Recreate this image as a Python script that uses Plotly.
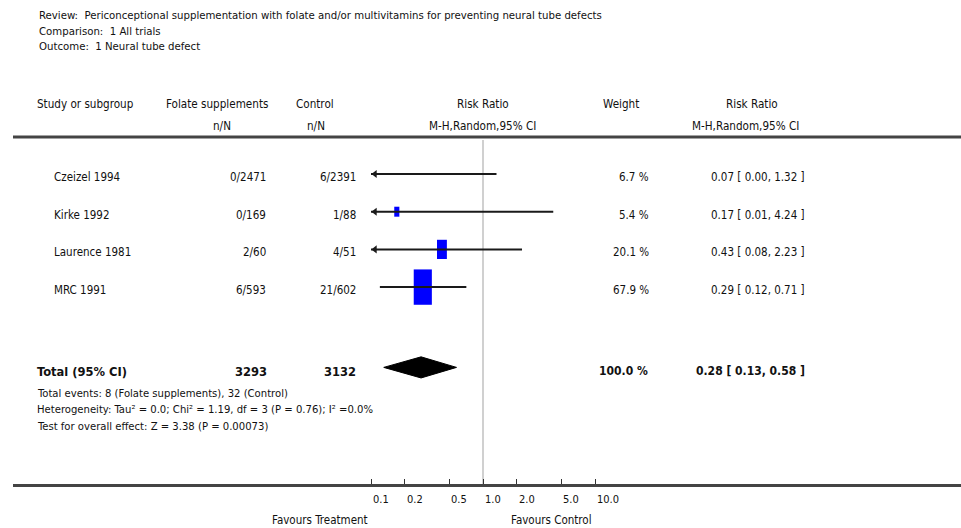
import numpy as np
import plotly.graph_objects as go

# ---------------- data ----------------
studies = ["Czeizel 1994", "Kirke 1992", "Laurence 1981", "MRC 1991"]
treat_txt = ["0/2471", "0/169", "2/60", "6/593"]
ctrl_txt = ["6/2391", "1/88", "4/51", "21/602"]
rr = [0.07, 0.17, 0.43, 0.29]
ci_lo = [0.00, 0.01, 0.08, 0.12]
ci_hi = [1.32, 4.24, 2.23, 0.71]
weights = [6.7, 5.4, 20.1, 67.9]
weight_txt = ["6.7 %", "5.4 %", "20.1 %", "67.9 %"]
rr_txt = ["0.07 [ 0.00, 1.32 ]", "0.17 [ 0.01, 4.24 ]", "0.43 [ 0.08, 2.23 ]", "0.29 [ 0.12, 0.71 ]"]
total_rr, total_lo, total_hi = 0.28, 0.13, 0.58
total_treat, total_ctrl = "3293", "3132"
total_weight_txt, total_rr_txt = "100.0 %", "0.28 [ 0.13, 0.58 ]"
tick_vals = [0.1, 0.2, 0.5, 1.0, 2.0, 5.0, 10.0]
tick_text = ["0.1", "0.2", "0.5", "1.0", "2.0", "5.0", "10.0"]
axis_min, axis_max = 0.1, 10.0

title_lines = [
    "Review:  Periconceptional supplementation with folate and/or multivitamins for preventing neural tube defects",
    "Comparison:  1 All trials",
    "Outcome:  1 Neural tube defect",
]
foot_lines = [
    "Total events: 8 (Folate supplements), 32 (Control)",
    "Heterogeneity: Tau² = 0.0; Chi² = 1.19, df = 3 (P = 0.76); I² =0.0%",
    "Test for overall effect: Z = 3.38 (P = 0.00073)",
]

# ---------------- layout helpers ----------------
W, H = 961, 528
FONT = "DejaVu Sans Condensed, Liberation Sans Narrow, sans-serif"
TXT = "#111111"


def px(x):
    return x / W


def py(y):
    return 1 - y / H


row_y = list(range(len(studies)))
total_y = 5.13

fig = go.Figure()
ann = []
shapes = []

# squares (size ~ sqrt(weight))
for i, (e, w) in enumerate(zip(rr, weights)):
    if e < axis_min:
        continue
    wpx = 2.2 * np.sqrt(w)
    hpx = 1.95 * wpx
    shapes.append(dict(type="rect", xref="x", yref="y", xsizemode="pixel", ysizemode="pixel",
                       xanchor=np.log10(e), yanchor=row_y[i],
                       x0=-wpx / 2, x1=wpx / 2, y0=-hpx / 2, y1=hpx / 2,
                       fillcolor="#0000ff", line=dict(width=0), layer="below"))

# CI lines + arrows
for i in range(len(studies)):
    lo = max(ci_lo[i], axis_min)
    hi = min(ci_hi[i], axis_max)
    fig.add_trace(go.Scatter(x=np.log10([lo, hi]), y=[row_y[i], row_y[i]], mode="lines",
                             line=dict(color="#1a1a1a", width=2), hoverinfo="skip", showlegend=False))
    if ci_lo[i] < axis_min:
        fig.add_trace(go.Scatter(x=[np.log10(axis_min) + 0.035], y=[row_y[i]], mode="markers",
                                 marker=dict(symbol="triangle-left", size=7, color="#1a1a1a"),
                                 hoverinfo="skip", showlegend=False))

# diamond
dh = 0.28
fig.add_trace(go.Scatter(
    x=np.log10([total_lo, total_rr, total_hi, total_rr, total_lo]),
    y=[total_y, total_y - dh, total_y, total_y + dh, total_y],
    mode="lines", fill="toself", fillcolor="#000000", line=dict(color="#000000", width=1),
    hoverinfo="skip", showlegend=False))

# vertical line of no effect
shapes.append(dict(type="line", xref="x", yref="paper", x0=0, x1=0, y0=py(140), y1=py(484),
                   line=dict(color="#d0d0d0", width=2), layer="below"))
# header rule
shapes.append(dict(type="line", xref="paper", yref="paper", x0=px(13), x1=1, y0=py(137), y1=py(137),
                   line=dict(color="#444444", width=3)))


def text(x, y, s, anchor="left", size=11.5, bold=False, xref="paper", yref="paper", yshift=0):
    ann.append(dict(x=x, y=y, xref=xref, yref=yref, text=("<b>%s</b>" % s) if bold else s,
                    showarrow=False, xanchor=anchor, yanchor="middle", yshift=yshift,
                    font=dict(family=FONT, size=size, color=TXT)))


# title block
for k, t in enumerate(title_lines):
    text(px(37), py(15 + 16 * k), t, size=11.3)

# column headers
HS = 11.6
text(px(35), py(104), "Study or subgroup", size=HS)
text(px(217), py(104), "Folate supplements", anchor="center", size=HS)
text(px(222), py(126), "n/N", anchor="center", size=HS)
text(px(315), py(104), "Control", anchor="center", size=HS)
text(px(316), py(126), "n/N", anchor="center", size=HS)
text(px(483), py(104), "Risk Ratio", anchor="center", size=HS)
text(px(483), py(126), "M-H,Random,95% CI", anchor="center", size=HS)
text(px(621), py(104), "Weight", anchor="center", size=HS)
text(px(752), py(104), "Risk Ratio", anchor="center", size=HS)
text(px(745), py(126), "M-H,Random,95% CI", anchor="center", size=HS)

# study rows
RS = 11.5
for i in range(len(studies)):
    y = row_y[i]
    text(px(52), y, studies[i], yref="y", yshift=-3, size=RS)
    text(px(268), y, treat_txt[i], anchor="right", yref="y", yshift=-3, size=RS)
    text(px(358), y, ctrl_txt[i], anchor="right", yref="y", yshift=-3, size=RS)
    text(px(651), y, weight_txt[i], anchor="right", yref="y", yshift=-3, size=RS)
    text(px(807), y, rr_txt[i], anchor="right", yref="y", yshift=-3, size=RS)

# total row
TS = 12.8
text(px(35), total_y, "Total (95% CI)", size=TS, bold=True, yref="y", yshift=-4)
text(px(269), total_y, total_treat, anchor="right", size=TS, bold=True, yref="y", yshift=-4)
text(px(358), total_y, total_ctrl, anchor="right", size=TS, bold=True, yref="y", yshift=-4)
text(px(650), total_y, total_weight_txt, anchor="right", size=12, bold=True, yref="y", yshift=-4)
text(px(807), total_y, total_rr_txt, anchor="right", size=12, bold=True, yref="y", yshift=-4)

for k, t in enumerate(foot_lines):
    text(px(35), py(393 + 16.5 * k), t, size=11.2)

# tick labels (left-aligned at tick)
for v, t in zip(tick_vals, tick_text):
    text(np.log10(v), py(499), t, xref="x", size=11)

text(px(370), py(520), "Favours Treatment", anchor="right", size=11.5)
text(px(594), py(520), "Favours Control", anchor="right", size=11.5)

# axes mapping: x pixel = 483 + 112*log10(v); row pixel = 174 + 37.7*row
x_left, x_right = (13 - 483) / 112, (W - 483) / 112
y_bottom, y_top = (484 - 174) / 37.7, (0 - 174) / 37.7

fig.update_layout(
    width=W, height=H,
    margin=dict(l=0, r=0, t=0, b=0),
    paper_bgcolor="white", plot_bgcolor="white",
    showlegend=False,
    xaxis=dict(domain=[13 / W, 1], range=[x_left, x_right], showgrid=False, zeroline=False,
               showline=True, linecolor="#444444", linewidth=3,
               tickmode="array", tickvals=np.log10(tick_vals), ticktext=tick_text,
               showticklabels=False, ticks="inside", ticklen=5, tickwidth=1, tickcolor="#333333",
               fixedrange=True),
    yaxis=dict(domain=[(H - 484) / H, 1], range=[y_bottom, y_top], showgrid=False, zeroline=False,
               showline=False, showticklabels=False, ticks="", fixedrange=True),
    shapes=shapes,
    annotations=ann,
)

fig.write_html("out.html", config={"displayModeBar": False},
               post_script="document.body.style.margin='0';document.body.style.overflow='hidden';")
